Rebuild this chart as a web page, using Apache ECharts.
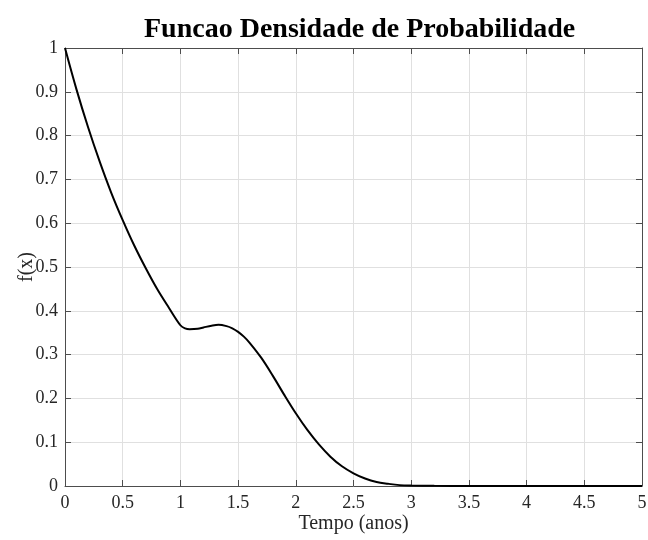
<!DOCTYPE html>
<html><head><meta charset="utf-8">
<script src="https://cdn.jsdelivr.net/npm/echarts@6/dist/echarts.min.js"></script>
<style>html,body{margin:0;padding:0;background:#fff}#c{width:648px;height:540px}</style>
</head><body><div id="c"></div>
<script>
var titleText = "Funcao Densidade de Probabilidade";
var xLabel = "Tempo (anos)";
var yLabel = "f(x)";
var xTicks = [0, 0.5, 1, 1.5, 2, 2.5, 3, 3.5, 4, 4.5, 5];
var tempo = [0, 0.1, 0.2, 0.3, 0.4, 0.5, 0.6, 0.7, 0.8, 0.9, 1.0, 1.04, 1.08, 1.15, 1.2, 1.27, 1.33, 1.4, 1.45, 1.5, 1.55, 1.6, 1.7, 1.8, 1.9, 2.0, 2.1, 2.2, 2.3, 2.4, 2.5, 2.6, 2.7, 2.8, 2.9, 3.0, 3.2, 3.5, 4.0, 4.5, 5.0];
var densidade = [1.0, 0.905, 0.819, 0.741, 0.670, 0.607, 0.549, 0.497, 0.449, 0.407, 0.367, 0.360, 0.358, 0.359, 0.362, 0.366, 0.368, 0.365, 0.360, 0.352, 0.341, 0.327, 0.293, 0.252, 0.208, 0.166, 0.128, 0.095, 0.067, 0.045, 0.029, 0.017, 0.009, 0.005, 0.002, 0.001, 0.0003, 0, 0, 0, 0];

var pts = tempo.map(function (t, i) { return [t, densidade[i]]; });
var axisCol = '#4d4d4d';
var font = 'Liberation Serif';
var chart = echarts.init(document.getElementById('c'));
var baseX = {
  type: 'value', min: 0, max: 5, interval: 0.5,
  axisLine: { show: true, onZero: false, lineStyle: { color: axisCol, width: 1 } },
  axisTick: { show: true, inside: true, length: 6, lineStyle: { color: axisCol } }
};
var baseY = {
  type: 'value', min: 0, max: 1, interval: 0.1,
  axisLine: { show: true, onZero: false, lineStyle: { color: axisCol, width: 1 } },
  axisTick: { show: true, inside: true, length: 6, lineStyle: { color: axisCol } }
};
chart.setOption({
  animation: false,
  backgroundColor: '#fff',
  title: {
    text: titleText, left: 139, top: 11,
    textStyle: { fontFamily: font, fontWeight: 'bold', fontSize: 28, color: '#000' }
  },
  grid: { left: 65, right: 6, top: 48, bottom: 54, containLabel: false, outerBoundsMode: 'none' },
  xAxis: [
    Object.assign({}, baseX, {
      position: 'bottom',
      name: xLabel, nameLocation: 'middle', nameGap: 28, nameMoveOverlap: false,
      nameTextStyle: { fontFamily: font, fontSize: 20, color: '#262626' },
      axisLabel: { fontFamily: font, fontSize: 18, color: '#262626', margin: 8,
        formatter: function (v) { return xTicks.indexOf(v) >= 0 ? String(v) : ''; } },
      splitLine: { show: true, lineStyle: { color: '#e0e0e0', width: 1 } }
    }),
    Object.assign({}, baseX, {
      position: 'top', axisLabel: { show: false }, splitLine: { show: false }
    })
  ],
  yAxis: [
    Object.assign({}, baseY, {
      position: 'left',
      name: yLabel, nameLocation: 'middle', nameGap: 28, nameRotate: 90, nameMoveOverlap: false,
      nameTextStyle: { fontFamily: font, fontSize: 20, color: '#262626' },
      axisLabel: { fontFamily: font, fontSize: 18, color: '#262626', margin: 7,
        formatter: function (v) { return String(Math.round(v * 10) / 10); } },
      splitLine: { show: true, lineStyle: { color: '#e0e0e0', width: 1 } }
    }),
    Object.assign({}, baseY, {
      position: 'right', axisLabel: { show: false }, splitLine: { show: false }
    })
  ],
  series: [{
    type: 'line', data: pts, xAxisIndex: 0, yAxisIndex: 0,
    showSymbol: false, smooth: 0.35,
    lineStyle: { color: '#000', width: 2 }
  }]
});
</script></body></html>
